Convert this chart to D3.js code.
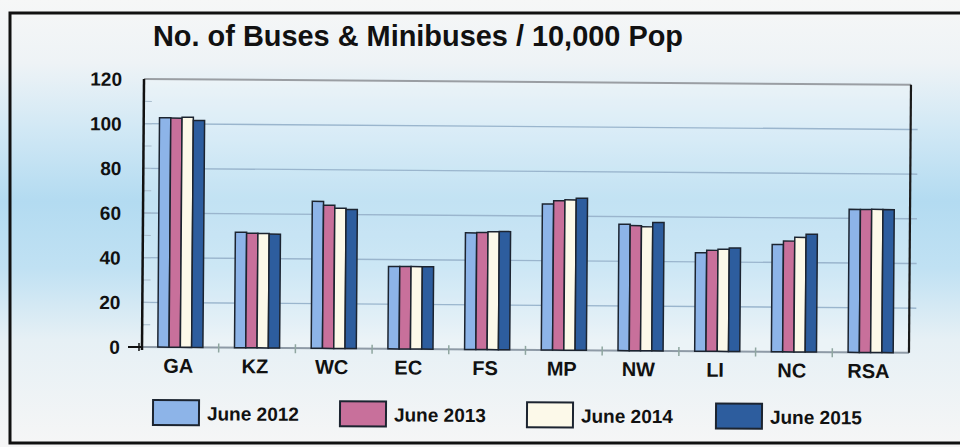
<!DOCTYPE html>
<html><head><meta charset="utf-8">
<script src="https://cdn.jsdelivr.net/npm/d3@7/dist/d3.min.js"></script>
<style>html,body{margin:0;padding:0;background:#fff;}svg{display:block;font-family:"Liberation Sans",Arial,sans-serif;}</style>
</head><body><div id="chart"></div>
<script>
const title = "No. of Buses & Minibuses / 10,000 Pop";
const categories = ["GA","KZ","WC","EC","FS","MP","NW","LI","NC","RSA"];
const seriesNames = ["June 2012","June 2013","June 2014","June 2015"];
const june2012 = [102.7, 51.7, 65.8, 36.9, 52.2, 65.4, 56.6, 44.1, 48.0, 64.0];
const june2013 = [102.6, 51.3, 64.1, 36.9, 52.4, 66.9, 56.0, 45.2, 49.6, 64.0];
const june2014 = [103.0, 51.2, 62.8, 36.9, 52.8, 67.3, 55.5, 45.7, 51.3, 64.1];
const june2015 = [101.6, 51.0, 62.3, 36.9, 52.9, 68.1, 57.5, 46.3, 52.7, 64.0];
const yTicks = [0, 20, 40, 60, 80, 100, 120];
const colors = ["#8db4e8", "#c8709b", "#fcf9e9", "#2d5d9e"];

const seriesValues = [june2012, june2013, june2014, june2015];
const W = 960, H = 447;
const svg = d3.select("#chart").append("svg").attr("width", W).attr("height", H);
const defs = svg.append("defs");
const bg = defs.append("linearGradient").attr("id","bg").attr("x1",0).attr("y1",0).attr("x2",0).attr("y2",1);
[[0,"#f6f7f7"],[0.14,"#eef3f6"],[0.28,"#d3e9f5"],[0.45,"#b3dbf1"],[0.6,"#c0e1f3"],[0.76,"#e6f0f5"],[1,"#f6f6f6"]]
  .forEach(([o,c]) => bg.append("stop").attr("offset",o).attr("stop-color",c));
svg.append("rect").attr("width",W).attr("height",H).attr("fill","url(#bg)");

// outer frame
svg.append("path").attr("d","M960,13 L10,13 L10,443 L960,443").attr("fill","none").attr("stroke","#111").attr("stroke-width",3);

// title
svg.append("text").attr("x",153).attr("y",46).attr("font-size",29).attr("font-weight","bold")
  .attr("fill","#111").attr("textLength",530).attr("lengthAdjust","spacingAndGlyphs").text(title);

const pLeft = 142, pRight = 909, pTop = 79, pBottom = 347;
const x0 = d3.scaleBand().domain(categories).range([pLeft, pRight]).paddingInner(0.412).paddingOuter(0.206);
const x1 = d3.scaleBand().domain(seriesNames).range([0, x0.bandwidth()]);
const y = d3.scaleLinear().domain([0, 120]).range([pBottom, pTop]);

const g = svg.append("g").attr("transform", `rotate(0.43, ${pLeft}, ${pBottom})`);
g.append("rect").attr("x",pLeft).attr("y",pTop).attr("width",pRight-pLeft).attr("height",pBottom-pTop)
  .attr("fill","#ffffff").attr("opacity",0.2);

// gridlines
g.append("g").selectAll("line").data(yTicks.filter(d => d > 0)).join("line")
  .attr("x1", pLeft).attr("x2", pRight).attr("y1", d => y(d)).attr("y2", d => y(d))
  .attr("stroke", d => d === 120 ? "#9a9ea3" : "#9ab5cd").attr("stroke-width", d => d === 120 ? 2 : 1.4);

// minor ticks on left axis
g.append("g").selectAll("line").data(d3.range(10, 120, 10)).join("line")
  .attr("x1", pLeft).attr("x2", pLeft + 8).attr("y1", d => y(d)).attr("y2", d => y(d))
  .attr("stroke", "#a9bccc").attr("stroke-width", 1);
// right ticks
g.append("g").selectAll("line").data(yTicks.filter(d => d > 0 && d < 120)).join("line")
  .attr("x1", pRight).attr("x2", pRight + 7).attr("y1", d => y(d)).attr("y2", d => y(d))
  .attr("stroke", "#9ab5cd").attr("stroke-width", 1.5);

// x baseline
g.append("line").attr("x1", pLeft).attr("x2", pRight).attr("y1", pBottom).attr("y2", pBottom)
  .attr("stroke", "#8e9aa6").attr("stroke-width", 2);
g.append("g").selectAll("line").data(categories.slice(1)).join("line")
  .attr("x1", d => x0(d) - x0.step()*x0.paddingInner()/2).attr("x2", d => x0(d) - x0.step()*x0.paddingInner()/2)
  .attr("y1", pBottom - 4).attr("y2", pBottom + 5).attr("stroke", "#8fa6a0").attr("stroke-width", 1.5);

// bars
const groups = g.append("g").selectAll("g").data(categories).join("g")
  .attr("transform", d => `translate(${x0(d)},0)`);
groups.selectAll("rect").data((c, i) => seriesNames.map((s, j) => ({s, v: seriesValues[j][i], j})))
  .join("rect")
  .attr("x", d => x1(d.s)).attr("width", x1.bandwidth())
  .attr("y", d => y(d.v)).attr("height", d => y(0) - y(d.v))
  .attr("fill", d => colors[d.j]).attr("stroke", "#1c2430").attr("stroke-width", 1.5);

// axes lines
g.append("line").attr("x1", pLeft).attr("x2", pLeft).attr("y1", pTop).attr("y2", pBottom + 3)
  .attr("stroke", "#111").attr("stroke-width", 2.5);
g.append("line").attr("x1", pRight).attr("x2", pRight).attr("y1", pTop).attr("y2", pBottom)
  .attr("stroke", "#1a1a1a").attr("stroke-width", 2.2);
g.append("line").attr("x1", pLeft - 14).attr("x2", pLeft).attr("y1", pBottom).attr("y2", pBottom)
  .attr("stroke", "#111").attr("stroke-width", 2);
g.append("line").attr("x1", pLeft - 3).attr("x2", pLeft - 3).attr("y1", pBottom - 4).attr("y2", pBottom + 4)
  .attr("stroke", "#111").attr("stroke-width", 1.5);

// y labels
g.append("g").selectAll("text").data(yTicks).join("text")
  .attr("x", 120).attr("y", d => y(d) + 7).attr("text-anchor", "end")
  .attr("font-size", 19).attr("font-weight", "bold").attr("fill", "#111").text(d => d);

// x labels
g.append("g").selectAll("text").data(categories).join("text")
  .attr("x", d => x0(d) + x0.bandwidth()/2 - 2).attr("y", 372.5).attr("text-anchor", "middle")
  .attr("font-size", 20).attr("font-weight", "bold").attr("fill", "#111").text(d => d);

// legend
const legX = [153, 340, 527, 716];
const lg = svg.append("g").attr("transform", "rotate(0.35, 153, 412)");
const items = lg.selectAll("g").data(seriesNames).join("g")
  .attr("transform", (d, i) => `translate(${legX[i]},400)`);
items.append("rect").attr("width", 46).attr("height", 25)
  .attr("fill", (d, i) => colors[i]).attr("stroke", "#1c2430").attr("stroke-width", 2);
items.append("text").attr("x", 54).attr("y", 20).attr("font-size", 19).attr("font-weight", "bold")
  .attr("fill", "#111").text(d => d);
</script></body></html>
